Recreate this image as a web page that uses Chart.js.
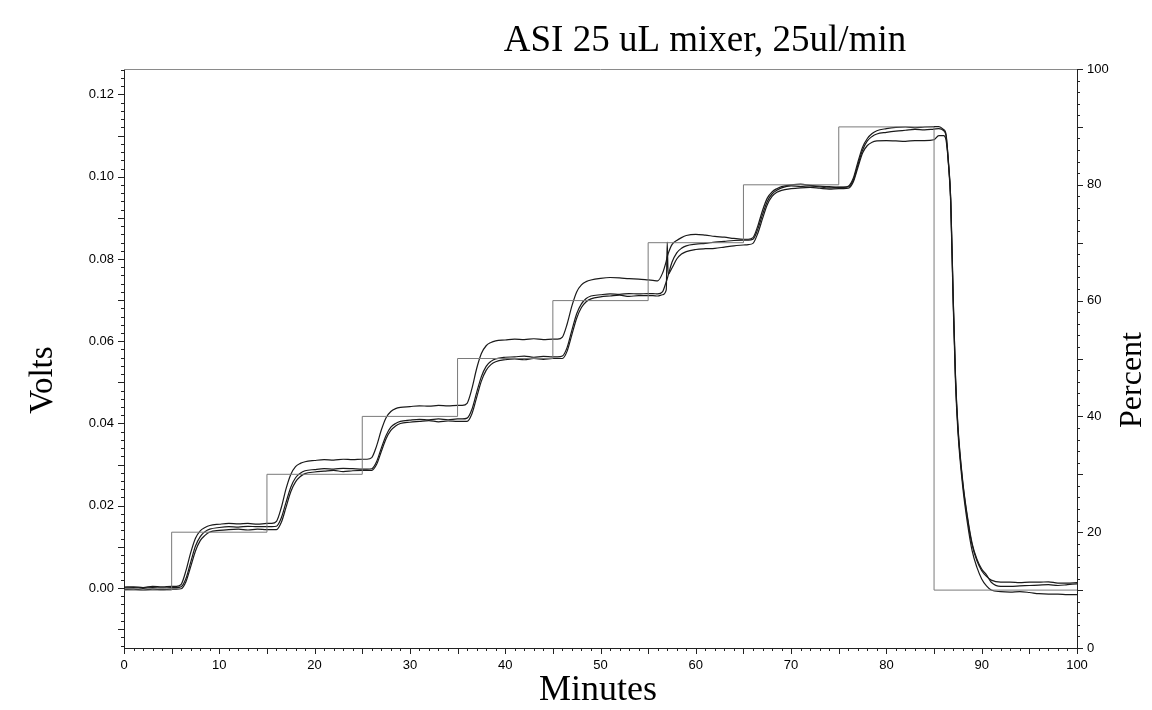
<!DOCTYPE html>
<html>
<head>
<meta charset="utf-8">
<script src="https://cdn.jsdelivr.net/npm/chart.js@4.4.1/dist/chart.umd.min.js"></script>
<style>
  html, body { margin: 0; padding: 0; background: #fff; }
  #wrap { width: 1152px; height: 710px; }
</style>
</head>
<body>
<div id="wrap"><canvas id="mixer" width="1152" height="710"></canvas></div>
<script>
// ── Data ───────────────────────────────────────────────
const minutes = [
  0, 1, 2, 3, 4, 5,
  5.5, 6, 6.5, 7, 7.5, 8, 8.5, 9, 10, 11, 12, 13, 14, 15,
  15.5, 16, 16.5, 17, 17.5, 18, 18.5, 19, 20, 21, 22, 23, 24, 25,
  25.5, 26, 26.5, 27, 27.5, 28, 28.5, 29, 30, 31, 32, 33, 34, 35,
  35.5, 36, 36.5, 37, 37.5, 38, 38.5, 39, 40, 41, 42, 43, 44, 45,
  45.5, 46, 46.5, 47, 47.5, 48, 48.5, 49, 50, 51, 52, 53, 54, 55,
  55.5, 56, 56.5, 56.9, 57, 57.1, 57.5, 58, 58.5, 59, 60, 61, 62, 63, 64, 65,
  65.5, 66, 66.5, 67, 67.5, 68, 68.5, 69, 70, 71, 72, 73, 74, 75,
  75.5, 76, 76.5, 77, 77.5, 78, 78.5, 79, 80, 81, 82, 83, 84, 85,
  85.5, 86, 86.25, 86.5, 86.75, 87, 87.25, 87.5, 88, 88.5, 89, 89.5, 90, 90.5, 91, 92, 93, 94, 95, 96, 97, 98, 99, 100
];

// detector signal, three runs (Volts)
const runA = [
  0.0002, 0.0003, 0.0001, 0.0004, 0.0003, 0.0004,
  0.0004, 0.0009, 0.0042, 0.0086, 0.0121, 0.0139, 0.0147, 0.0152, 0.0155, 0.0157, 0.0156, 0.0157, 0.0155, 0.0157,
  0.0157, 0.0162, 0.0195, 0.0241, 0.0276, 0.0295, 0.0303, 0.0307, 0.0310, 0.0312, 0.0311, 0.0313, 0.0312, 0.0313,
  0.0313, 0.0317, 0.0345, 0.0384, 0.0414, 0.0429, 0.0436, 0.0439, 0.0441, 0.0443, 0.0442, 0.0444, 0.0443, 0.0444,
  0.0444, 0.0449, 0.0484, 0.0533, 0.0570, 0.0589, 0.0597, 0.0601, 0.0603, 0.0605, 0.0604, 0.0606, 0.0604, 0.0605,
  0.0605, 0.0610, 0.0642, 0.0686, 0.0720, 0.0737, 0.0745, 0.0749, 0.0753, 0.0755, 0.0754, 0.0752, 0.0751, 0.0749,
  0.0748, 0.0747, 0.0765, 0.0795, 0.0805, 0.0813, 0.0835, 0.0845, 0.0852, 0.0857, 0.0860, 0.0858, 0.0855, 0.0853, 0.0850, 0.0848,
  0.0848, 0.0852, 0.0880, 0.0918, 0.0948, 0.0963, 0.0971, 0.0976, 0.0980, 0.0982, 0.0979, 0.0977, 0.0976, 0.0975,
  0.0975, 0.0977, 0.0995, 0.1035, 0.1072, 0.1093, 0.1105, 0.1112, 0.1117, 0.1120, 0.1121, 0.1119, 0.1121, 0.1122,
  0.1122, 0.1115, 0.1105, 0.1035, 0.0935, 0.0700, 0.0500, 0.0382, 0.0248, 0.0158, 0.0090, 0.0050, 0.0022, 0.0005, -0.0005, -0.0009, -0.0010, -0.0009, -0.0011, -0.0014, -0.0015, -0.0015, -0.0016, -0.0016
];

const runB = [
  0.0000, 0.0001, -0.0001, 0.0001, 0.0000, 0.0001,
  0.0001, 0.0003, 0.0023, 0.0063, 0.0102, 0.0125, 0.0137, 0.0143, 0.0147, 0.0149, 0.0148, 0.0150, 0.0149, 0.0149,
  0.0149, 0.0150, 0.0170, 0.0208, 0.0245, 0.0268, 0.0279, 0.0285, 0.0288, 0.0290, 0.0289, 0.0291, 0.0290, 0.0289,
  0.0289, 0.0290, 0.0307, 0.0340, 0.0371, 0.0391, 0.0400, 0.0405, 0.0408, 0.0410, 0.0409, 0.0411, 0.0409, 0.0411,
  0.0411, 0.0413, 0.0434, 0.0475, 0.0514, 0.0539, 0.0551, 0.0557, 0.0561, 0.0562, 0.0564, 0.0561, 0.0563, 0.0562,
  0.0562, 0.0564, 0.0585, 0.0627, 0.0667, 0.0691, 0.0704, 0.0710, 0.0713, 0.0715, 0.0714, 0.0716, 0.0715, 0.0716,
  0.0716, 0.0715, 0.0720, 0.0745, 0.0752, 0.0760, 0.0792, 0.0815, 0.0826, 0.0832, 0.0836, 0.0838, 0.0841, 0.0843, 0.0845, 0.0846,
  0.0846, 0.0848, 0.0872, 0.0908, 0.0940, 0.0958, 0.0967, 0.0973, 0.0978, 0.0976, 0.0978, 0.0975, 0.0973, 0.0974,
  0.0974, 0.0975, 0.0990, 0.1028, 0.1065, 0.1087, 0.1098, 0.1104, 0.1108, 0.1111, 0.1113, 0.1115, 0.1114, 0.1116,
  0.1117, 0.1112, 0.1100, 0.1040, 0.0945, 0.0712, 0.0512, 0.0392, 0.0258, 0.0170, 0.0104, 0.0066, 0.0042, 0.0028, 0.0019, 0.0014, 0.0014, 0.0013, 0.0014, 0.0014, 0.0015, 0.0012, 0.0012, 0.0013
];

const runC = [
  -0.0004, -0.0003, -0.0005, -0.0003, -0.0004, -0.0003,
  -0.0003, -0.0002, 0.0015, 0.0052, 0.0090, 0.0115, 0.0128, 0.0136, 0.0140, 0.0142, 0.0143, 0.0141, 0.0143, 0.0142,
  0.0142, 0.0142, 0.0159, 0.0196, 0.0234, 0.0258, 0.0271, 0.0278, 0.0282, 0.0284, 0.0286, 0.0283, 0.0285, 0.0286,
  0.0286, 0.0286, 0.0300, 0.0332, 0.0363, 0.0383, 0.0394, 0.0400, 0.0403, 0.0405, 0.0407, 0.0404, 0.0406, 0.0405,
  0.0405, 0.0405, 0.0423, 0.0463, 0.0503, 0.0529, 0.0543, 0.0550, 0.0555, 0.0557, 0.0555, 0.0558, 0.0556, 0.0558,
  0.0558, 0.0558, 0.0576, 0.0616, 0.0656, 0.0682, 0.0696, 0.0703, 0.0708, 0.0710, 0.0712, 0.0709, 0.0711, 0.0711,
  0.0711, 0.0710, 0.0713, 0.0725, 0.0841, 0.0763, 0.0778, 0.0800, 0.0812, 0.0818, 0.0823, 0.0825, 0.0826, 0.0829, 0.0832, 0.0834,
  0.0835, 0.0838, 0.0862, 0.0898, 0.0932, 0.0952, 0.0962, 0.0967, 0.0971, 0.0973, 0.0974, 0.0972, 0.0970, 0.0971,
  0.0971, 0.0972, 0.0986, 0.1022, 0.1058, 0.1076, 0.1084, 0.1087, 0.1088, 0.1087, 0.1086, 0.1088, 0.1088, 0.1090,
  0.1100, 0.1100, 0.1090, 0.1035, 0.0945, 0.0715, 0.0516, 0.0396, 0.0262, 0.0174, 0.0108, 0.0070, 0.0046, 0.0032, 0.0014, 0.0004, 0.0004, 0.0005, 0.0006, 0.0007, 0.0008, 0.0006, 0.0008, 0.0010
];

// gradient program (Percent, right axis)
const stepMinutes = [0, 5, 15, 25, 35, 45, 55, 65, 75, 85, 100];
const stepPercent = [10, 20, 30, 40, 50, 60, 70, 80, 90, 10, 10];

// ── Helpers ────────────────────────────────────────────
const TICK_FONT = { family: "'Liberation Sans', Arial, sans-serif", size: 13 };
const SERIF = "'Liberation Serif', 'Times New Roman', serif";
const AXIS_COLOR = '#222';

function toPoints(xs, ys) {
  return xs.map((x, i) => ({ x, y: ys[i] }));
}

function runDataset(values) {
  return {
    data: toPoints(minutes, values),
    yAxisID: 'y',
    borderColor: '#1a1a1a',
    borderWidth: 1.2,
    pointRadius: 0,
    cubicInterpolationMode: 'monotone',
    fill: false
  };
}

// Minor/major tick marks, frame line and titles
const decorPlugin = {
  id: 'decor',
  afterDraw(chart) {
    const { ctx, chartArea: a, scales } = chart;
    ctx.save();
    ctx.lineWidth = 1;

    // top frame line
    ctx.strokeStyle = '#8a8a8a';
    ctx.beginPath();
    ctx.moveTo(a.left, Math.round(a.top) + 0.5);
    ctx.lineTo(a.right, Math.round(a.top) + 0.5);
    ctx.stroke();

    ctx.strokeStyle = AXIS_COLOR;
    ctx.beginPath();
    // x ticks every minute, longer every 5
    for (let m = 0; m <= 100; m++) {
      const px = Math.round(scales.x.getPixelForValue(m)) + 0.5;
      const len = m % 5 === 0 ? 6 : 3;
      ctx.moveTo(px, a.bottom);
      ctx.lineTo(px, a.bottom + len);
    }
    // left ticks every 0.002 V, longer every 0.01
    for (let i = -7; i <= 63; i++) {
      const py = Math.round(scales.y.getPixelForValue(i * 0.002)) + 0.5;
      if (py < a.top - 1 || py > a.bottom + 1) continue;
      const len = i % 5 === 0 ? 6 : 3;
      ctx.moveTo(a.left, py);
      ctx.lineTo(a.left - len, py);
    }
    // right ticks every 2 %, longer every 10
    for (let p = 0; p <= 100; p += 2) {
      const py = Math.round(scales.y2.getPixelForValue(p)) + 0.5;
      const len = p % 10 === 0 ? 6 : 3;
      ctx.moveTo(a.right, py);
      ctx.lineTo(a.right + len, py);
    }
    ctx.stroke();

    // titles
    ctx.fillStyle = '#000';
    ctx.textAlign = 'center';
    ctx.textBaseline = 'alphabetic';
    ctx.font = `37px ${SERIF}`;
    ctx.fillText('ASI 25 uL mixer, 25ul/min', 705, 51);

    ctx.font = `36px ${SERIF}`;
    ctx.fillText('Minutes', 598, 700);

    ctx.font = `33px ${SERIF}`;
    ctx.save();
    ctx.translate(52, 380);
    ctx.rotate(-Math.PI / 2);
    ctx.fillText('Volts', 0, 0);
    ctx.restore();

    ctx.font = `32px ${SERIF}`;
    ctx.save();
    ctx.translate(1141, 380);
    ctx.rotate(-Math.PI / 2);
    ctx.fillText('Percent', 0, 0);
    ctx.restore();

    ctx.restore();
  }
};

// ── Chart ──────────────────────────────────────────────
const chart = new Chart(document.getElementById('mixer'), {
  type: 'line',
  data: {
    datasets: [
      {
        data: toPoints(stepMinutes, stepPercent),
        yAxisID: 'y2',
        borderColor: '#7a7a7a',
        borderWidth: 1,
        pointRadius: 0,
        stepped: true,
        fill: false
      },
      runDataset(runA),
      runDataset(runB),
      runDataset(runC)
    ]
  },
  options: {
    responsive: false,
    animation: false,
    layout: { padding: { top: 69, left: 0, right: 0, bottom: 0 } },
    plugins: {
      legend: { display: false },
      tooltip: { enabled: false },
      title: { display: false }
    },
    scales: {
      x: {
        type: 'linear',
        min: 0,
        max: 100,
        afterFit: s => { s.height = 62; },
        ticks: {
          stepSize: 10,
          color: '#000',
          font: TICK_FONT,
          padding: 10,
          maxRotation: 0,
          callback: v => String(v)
        },
        grid: { drawOnChartArea: false, drawTicks: false },
        border: { display: true, color: AXIS_COLOR, width: 1 }
      },
      y: {
        type: 'linear',
        position: 'left',
        min: -0.0146,
        max: 0.1262,
        afterFit: s => { s.width = 124; },
        ticks: {
          stepSize: 0.02,
          includeBounds: false,
          color: '#000',
          font: TICK_FONT,
          padding: 10,
          callback: v => v.toFixed(2)
        },
        grid: { drawOnChartArea: false, drawTicks: false },
        border: { display: true, color: AXIS_COLOR, width: 1 }
      },
      y2: {
        type: 'linear',
        position: 'right',
        min: 0,
        max: 100,
        afterFit: s => { s.width = 75; },
        ticks: {
          stepSize: 20,
          color: '#000',
          font: TICK_FONT,
          padding: 10,
          callback: v => String(v)
        },
        grid: { drawOnChartArea: false, drawTicks: false },
        border: { display: true, color: AXIS_COLOR, width: 1 }
      }
    }
  },
  plugins: [decorPlugin]
});
</script>
</body>
</html>
